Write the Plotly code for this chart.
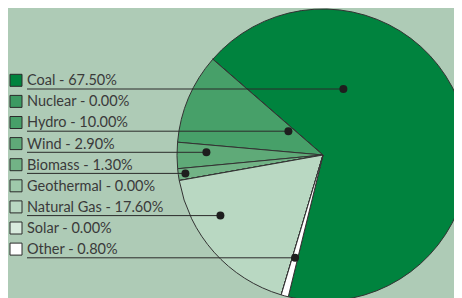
import math
import plotly.graph_objects as go

# ---- data ----
labels = ["Coal", "Nuclear", "Hydro", "Wind", "Biomass", "Geothermal", "Natural Gas", "Solar", "Other"]
values = [67.50, 0.00, 10.00, 2.90, 1.30, 0.00, 17.60, 0.00, 0.80]
colors = ["#00833e", "#3c9a62", "#47a069", "#5faa78", "#72b386", "#9fcaab", "#b9d8c2", "#d9ebde", "#ffffff"]

# ---- layout constants (picture pixels) ----
OFF = 8            # page body margin offset
W, H = 480, 320    # figure size (larger than window so the pie can run off the edge)
CX, CY, R = 323, 155, 146
ROT = -49
BG = "#aecbb6"
INK = "#2b2b2b"


def px(x):
    return (x - OFF) / W


def py(y):
    return 1 - (y - OFF) / H


fig = go.Figure()
fig.add_trace(go.Pie(
    labels=labels, values=values, sort=False, direction="counterclockwise", rotation=ROT,
    marker=dict(colors=colors, line=dict(color="#333333", width=1)),
    textinfo="none", hoverinfo="skip", showlegend=False,
    domain=dict(x=[px(CX - R), px(CX + R)], y=[py(CY + R), py(CY - R)]),
))

# leader dot horizontal offsets from pie centre (layout positions)
leader_dx = {"Coal": 20.4, "Hydro": -34.6, "Wind": -116.6, "Biomass": -137.6, "Natural Gas": -102.6}

total = sum(values)
ang = {}
a0 = values[0] / total * 360
ang[labels[0]] = (ROT, ROT + a0)
cur = ROT
for lab, v in zip(labels[1:], values[1:]):
    a = v / total * 360
    ang[lab] = (cur - a, cur)
    cur -= a

shapes = []
annotations = []
row0, step = 80.3, 21.1
for i, (lab, v, c) in enumerate(zip(labels, values, colors)):
    yc = row0 + step * i
    shapes.append(dict(type="rect", xref="paper", yref="paper",
                       x0=px(10), x1=px(22), y0=py(yc - 6), y1=py(yc + 6),
                       fillcolor=c, line=dict(color=INK, width=1), layer="above"))
    annotations.append(dict(xref="paper", yref="paper", x=px(25), y=py(yc - 0.5),
                            xanchor="left", yanchor="middle", showarrow=False,
                            text=f"{lab} - {v:.2f}%",
                            font=dict(family="Lato", size=14.5, color="#3a3a3a")))
    if v > 0:
        ly = yc + 8.7
        if lab in leader_dx:
            dx = leader_dx[lab]
        else:
            mid = math.radians(sum(ang[lab]) / 2)
            dx = -(ly - CY) * math.tan(mid)
        dxp = CX + dx
        shapes.append(dict(type="line", xref="paper", yref="paper",
                           x0=px(27), x1=px(dxp), y0=py(ly), y1=py(ly),
                           line=dict(color=INK, width=1), layer="above"))
        shapes.append(dict(type="circle", xref="paper", yref="paper",
                           x0=px(dxp - 4), x1=px(dxp + 4), y0=py(ly - 4), y1=py(ly + 4),
                           fillcolor="#1e1e1e", line=dict(color="#1e1e1e", width=0), layer="above"))

fig.update_layout(
    width=W, height=H, margin=dict(l=0, r=0, t=0, b=0),
    paper_bgcolor=BG, plot_bgcolor=BG,
    shapes=shapes, annotations=annotations, showlegend=False,
)
fig.write_html("out.html")
